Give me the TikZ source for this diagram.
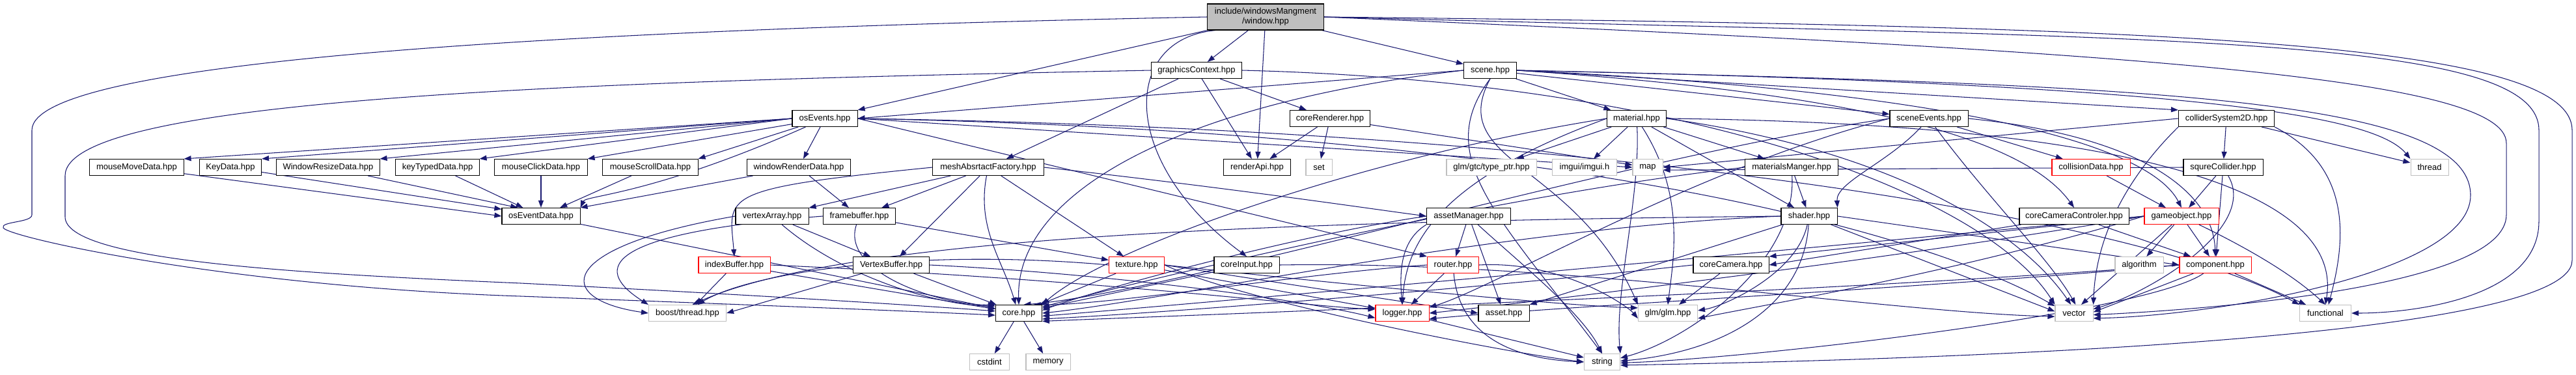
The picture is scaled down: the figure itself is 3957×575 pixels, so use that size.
\documentclass[tikz,border=0pt]{standalone}
\usepackage{fontspec}
\setmainfont{Liberation Sans}
\usetikzlibrary{arrows.meta,backgrounds}
\definecolor{edgeblue}{HTML}{191970}
\definecolor{sysgray}{HTML}{BFBFBF}
\newcommand{\hfont}{\fontsize{3.7}{4.3}\selectfont}
\tikzset{
  hdr/.style={draw=black, fill=white, line width=0.3pt, minimum height=2.5mm, inner sep=0pt, font=\hfont},
  sys/.style={hdr, draw=sysgray},
  trunc/.style={hdr, draw=red},
  dep/.style={draw=edgeblue, line width=0.3pt, -{Triangle[length=1.1mm,width=0.8mm]}},
}
\begin{document}
\begin{tikzpicture}[x=0.01cm, y=-0.01cm]
\useasboundingbox (0,0) rectangle (3957,575);
% Nodi
\node[hdr, fill=sysgray, minimum width=17.8mm, minimum height=4mm, align=center] (win) at (1944,26) {include/windowsMangment\\/window.hpp};
\node[hdr, minimum width=13.9mm] (gctx) at (1838,108) {graphicsContext.hpp};
\node[hdr, minimum width=8.1mm] (scene) at (2289,108) {scene.hpp};
\node[hdr, minimum width=10mm] (osev) at (1267,182) {osEvents.hpp};
\node[hdr, minimum width=12.3mm] (corer) at (2043,182) {coreRenderer.hpp};
\node[hdr, minimum width=9.1mm] (mat) at (2514,182) {material.hpp};
\node[hdr, minimum width=12mm] (scev) at (2963,182) {sceneEvents.hpp};
\node[hdr, minimum width=14.7mm] (colsys) at (3420,182) {colliderSystem2D.hpp};
\node[hdr, minimum width=14.4mm] (mmd) at (210,257) {mouseMoveData.hpp};
\node[hdr, minimum width=9.5mm] (keyd) at (354,257) {KeyData.hpp};
\node[hdr, minimum width=15.8mm] (wrd) at (504,257) {WindowResizeData.hpp};
\node[hdr, minimum width=12.8mm] (ktd) at (672,257) {keyTypedData.hpp};
\node[hdr, minimum width=14.2mm] (mcd) at (831,257) {mouseClickData.hpp};
\node[hdr, minimum width=14.6mm] (msd) at (999,257) {mouseScrollData.hpp};
\node[hdr, minimum width=15.9mm] (wrnd) at (1227,257) {windowRenderData.hpp};
\node[hdr, minimum width=17mm] (mesh) at (1518,257) {meshAbsrtactFactory.hpp};
\node[hdr, minimum width=10.3mm] (rapi) at (1931,257) {renderApi.hpp};
\node[sys, minimum width=4mm] (set) at (2026,257) {set};
\node[sys, minimum width=13.8mm] (gtc) at (2291,257) {glm/gtc/type\_ptr.hpp};
\node[sys, minimum width=9.9mm] (imgui) at (2434,257) {imgui/imgui.h};
\node[sys, minimum width=4.6mm] (map) at (2531,257) {map};
\node[hdr, minimum width=14.3mm] (matm) at (2752,257) {materialsManger.hpp};
\node[trunc, minimum width=12mm] (coll) at (3212,257) {collisionData.hpp};
\node[hdr, minimum width=12.2mm] (sqc) at (3415,257) {squreCollider.hpp};
\node[sys, minimum width=5.8mm] (thread) at (3732,257) {thread};
\node[hdr, minimum width=12mm] (oed) at (831,332) {osEventData.hpp};
\node[hdr, minimum width=11.2mm] (varr) at (1186,332) {vertexArray.hpp};
\node[hdr, minimum width=11.1mm] (fbuf) at (1320,332) {framebuffer.hpp};
\node[hdr, minimum width=12.9mm] (assetm) at (2256,332) {assetManager.hpp};
\node[hdr, minimum width=8.6mm] (shader) at (2779,332) {shader.hpp};
\node[hdr, minimum width=16.8mm] (camctl) at (3186,332) {coreCameraControler.hpp};
\node[trunc, minimum width=11.4mm] (gobj) at (3351,332) {gameobject.hpp};
\node[trunc, minimum width=11mm] (ibuf) at (1128,407) {indexBuffer.hpp};
\node[hdr, minimum width=11.7mm] (vbuf) at (1369,407) {VertexBuffer.hpp};
\node[trunc, minimum width=8.5mm] (tex) at (1746,407) {texture.hpp};
\node[hdr, minimum width=10mm] (cinp) at (1915,407) {coreInput.hpp};
\node[trunc, minimum width=7.9mm] (router) at (2232,407) {router.hpp};
\node[hdr, minimum width=11.6mm] (ccam) at (2659,407) {coreCamera.hpp};
\node[sys, minimum width=7.4mm] (algo) at (3286,407) {algorithm};
\node[trunc, minimum width=11mm] (comp) at (3403,407) {component.hpp};
\node[sys, minimum width=11.9mm] (boost) at (1056,481) {boost/thread.hpp};
\node[hdr, minimum width=7.1mm] (core) at (1565,481) {core.hpp};
\node[trunc, minimum width=8.2mm] (logger) at (2154,481) {logger.hpp};
\node[hdr, minimum width=7.8mm] (asset) at (2310,481) {asset.hpp};
\node[sys, minimum width=9.1mm] (glm) at (2562,481) {glm/glm.hpp};
\node[sys, minimum width=5.8mm] (vector) at (3186,481) {vector};
\node[sys, minimum width=7.9mm] (functional) at (3572,481) {functional};
\node[sys, minimum width=6.1mm] (cstdint) at (1520,556) {cstdint};
\node[sys, minimum width=6.8mm] (memory) at (1610,556) {memory};
\node[sys, minimum width=5.5mm] (string) at (2461,556) {string};
\begin{pgfonlayer}{background}
% window.hpp
\draw[dep] (win) -- (gctx);
\draw[dep] (win) -- (scene);
\draw[dep] (win.south west) -- (osev.north east);
\draw[dep] (win) -- (rapi);
\draw[dep] (win.195) .. controls (1720,60) and (1720,250) .. (cinp.north);
\draw[dep] (win.west) .. controls (900,45) and (49,90) .. (49,200) -- (49,330) .. controls (49,342) and (0,340) .. (5,350) .. controls (15,365) and (350,440) .. (800,455) .. controls (1200,470) and (1450,480) .. (core.185);
\draw[dep] (win.east) .. controls (3300,40) and (3951,60) .. (3951,200) -- (3951,400) .. controls (3951,520) and (3000,552) .. (string.-10);
\draw[dep] (win.east) .. controls (3300,60) and (3900,50) .. (3900,200) -- (3900,340) .. controls (3900,460) and (3700,481) .. (functional.east);
\draw[dep] (win.east) .. controls (3300,80) and (3850,120) .. (3850,220) -- (3850,330) .. controls (3850,440) and (3400,475) .. (vector.-5);
% graphicsContext.hpp
\draw[dep] (gctx.west) .. controls (900,125) and (100,150) .. (100,270) -- (100,333) .. controls (100,400) and (450,420) .. (800,435) .. controls (1200,455) and (1450,472) .. (core.175);
\draw[dep] (gctx) -- (mesh);
\draw[dep] (gctx) -- (rapi);
\draw[dep] (gctx) -- (corer);
\draw[dep] (gctx.east) .. controls (2600,125) and (3050,300) .. (vector.north west);
% scene.hpp
\draw[dep] (scene.west) -- (osev.east);
\draw[dep] (scene) -- (mat);
\draw[dep] (scene) -- (scev);
\draw[dep] (scene.east) -- (colsys.north west);
\draw[dep] (scene.east) .. controls (3400,130) and (3650,180) .. (thread.north west);
\draw[dep] (scene.west) .. controls (1800,160) and (1560,300) .. (core.north);
\draw[dep] (scene.east) .. controls (2800,140) and (3100,200) .. (camctl.north);
\draw[dep] (scene.east) .. controls (3000,140) and (3300,220) .. (gobj.north);
\draw[dep] (scene.east) .. controls (3300,130) and (3795,150) .. (3795,300) .. controls (3795,420) and (3400,485) .. (vector.-15);
\draw[dep] (scene.south) .. controls (2220,250) and (2420,250) .. (glm.north west);
\draw[dep] (scene.south) .. controls (2200,240) and (2300,330) .. (string.north);
% osEvents.hpp
\draw[dep] (osev.west) -- (mmd.north east);
\draw[dep] (osev.west) -- (keyd.north east);
\draw[dep] (osev.west) -- (wrd.north east);
\draw[dep] (osev.west) -- (ktd.north east);
\draw[dep] (osev) -- (mcd.north east);
\draw[dep] (osev) -- (msd.north east);
\draw[dep] (osev) -- (wrnd);
\draw[dep] (osev) .. controls (1000,300) and (900,300) .. (oed.north east);
\draw[dep] (osev.east) -- (map.west);
\draw[dep] (osev.east) .. controls (2500,200) and (3300,340) .. (functional.north west);
\draw[dep] (osev.east) .. controls (2500,205) and (3000,380) .. (vector.160);
\draw[dep] (osev.east) -- (router.north west);
% *Data.hpp
\draw[dep] (mmd) -- (oed.west);
\draw[dep] (keyd) -- (oed.170);
\draw[dep] (wrd) -- (oed.160);
\draw[dep] (ktd) -- (oed);
\draw[dep] (mcd) -- (oed);
\draw[dep] (msd) -- (oed);
\draw[dep] (wrnd) -- (oed.north east);
\draw[dep] (wrnd) -- (fbuf);
\draw[dep] (oed) -- (core);
% coreRenderer.hpp
\draw[dep] (corer) -- (rapi);
\draw[dep] (corer) -- (set);
\draw[dep] (corer) -- (map);
% meshAbsrtactFactory.hpp
\draw[dep] (mesh) -- (varr);
\draw[dep] (mesh) -- (fbuf);
\draw[dep] (mesh) -- (vbuf);
\draw[dep] (mesh.west) .. controls (1100,290) and (1120,300) .. (ibuf.north);
\draw[dep] (mesh) -- (tex);
\draw[dep] (mesh) .. controls (1500,350) and (1540,400) .. (core.110);
\draw[dep] (mesh.east) .. controls (1900,290) and (2100,320) .. (assetm.west);
% material.hpp
\draw[dep] (mat) -- (gtc);
\draw[dep] (mat) -- (imgui);
\draw[dep] (mat) .. controls (2590,300) and (2570,400) .. (glm.north);
\draw[dep] (mat) -- (matm);
\draw[dep] (mat.west) .. controls (2100,240) and (1700,380) .. (core.north east);
\draw[dep] (mat.west) .. controls (2200,280) and (2160,380) .. (logger.north);
\draw[dep] (mat) -- (shader);
\draw[dep] (mat.east) .. controls (3300,190) and (3600,300) .. (functional.north);
\draw[dep] (mat.east) .. controls (2900,230) and (3100,350) .. (vector.110);
\draw[dep] (mat) .. controls (2520,300) and (2480,450) .. (string.north east);
% materialsManger.hpp
\draw[dep] (matm) -- (shader);
\draw[dep] (matm.west) .. controls (2300,300) and (1800,420) .. (core.15);
\draw[dep] (matm) .. controls (2760,400) and (2600,520) .. (string.12);
% sceneEvents.hpp
\draw[dep] (scev) -- (coll);
\draw[dep] (scev) .. controls (2900,250) and (2820,280) .. (shader.north east);
\draw[dep] (scev.east) .. controls (3300,210) and (3400,300) .. (comp.north);
\draw[dep] (scev.west) .. controls (2500,240) and (1800,450) .. (core.60);
\draw[dep] (scev) .. controls (3050,300) and (3150,400) .. (vector.80);
\draw[dep] (scev.west) .. controls (2600,260) and (2300,440) .. (logger.12);
% colliderSystem2D.hpp
\draw[dep] (colsys) -- (sqc);
\draw[dep] (colsys) -- (thread);
\draw[dep] (colsys.west) -- (map.east);
\draw[dep] (colsys.south east) .. controls (3620,260) and (3600,380) .. (functional.70);
\draw[dep] (colsys.south west) .. controls (3280,260) and (3220,350) .. (vector.north east);
% collisionData.hpp, squreCollider.hpp
\draw[dep] (coll) -- (gobj);
\draw[dep] (sqc) -- (gobj);
\draw[dep] (sqc) -- (comp);
\draw[dep] (sqc) .. controls (3470,350) and (3300,450) .. (vector.12);
\draw[dep] (sqc.west) -- (map.-10);
% vertexArray.hpp, framebuffer.hpp, indexBuffer.hpp, VertexBuffer.hpp
\draw[dep] (varr.west) .. controls (850,380) and (850,460) .. (boost.west);
\draw[dep] (varr) -- (vbuf);
\draw[dep] (varr) .. controls (1300,430) and (1450,470) .. (core.163);
\draw[dep] (fbuf.west) .. controls (900,360) and (920,420) .. (boost.north west);
\draw[dep] (fbuf) -- (tex);
\draw[dep] (fbuf) .. controls (1290,420) and (1450,470) .. (core.north west);
\draw[dep] (ibuf) -- (boost);
\draw[dep] (ibuf) -- (core);
\draw[dep] (ibuf.east) .. controls (1700,430) and (2000,470) .. (logger.172);
\draw[dep] (vbuf) -- (boost.east);
\draw[dep] (vbuf) -- (core);
\draw[dep] (vbuf.east) .. controls (1700,420) and (2000,460) .. (logger.190);
% texture.hpp
\draw[dep] (tex) -- (core);
\draw[dep] (tex) -- (logger);
\draw[dep] (tex.east) .. controls (2000,440) and (2200,470) .. (asset.west);
\draw[dep] (tex.east) .. controls (2000,430) and (2400,470) .. (glm.170);
\draw[dep] (tex.east) .. controls (1900,460) and (2300,540) .. (string.west);
\draw[dep] (tex.west) .. controls (1400,380) and (1150,420) .. (boost.40);
% coreInput.hpp
\draw[dep] (cinp) -- (core);
\draw[dep] (cinp.east) .. controls (2400,400) and (2900,480) .. (vector.190);
% assetManager.hpp
\draw[dep] (assetm) -- (router);
\draw[dep] (assetm) -- (asset);
\draw[dep] (assetm) .. controls (2330,400) and (2430,480) .. (string.north);
\draw[dep] (assetm.west) .. controls (2000,360) and (1700,440) .. (core.7);
\draw[dep] (assetm.south west) .. controls (2150,370) and (2150,420) .. (logger.north);
% shader.hpp
\draw[dep] (shader.east) -- (comp.west);
\draw[dep] (shader) -- (vector.175);
\draw[dep] (shader) .. controls (2770,470) and (2650,540) .. (string.3);
\draw[dep] (shader) .. controls (2760,420) and (2650,470) .. (glm.5);
\draw[dep] (shader.west) .. controls (2300,350) and (1800,460) .. (core.0);
\draw[dep] (shader.west) .. controls (2000,340) and (1300,360) .. (boost.60);
\draw[dep] (shader) -- (asset.north east);
% coreCameraControler.hpp, gameobject.hpp, coreCamera.hpp
\draw[dep] (camctl) -- (ccam.east);
\draw[dep] (camctl) -- (comp);
\draw[dep] (gobj) -- (algo);
\draw[dep] (gobj) -- (comp);
\draw[dep] (gobj) -- (vector.50);
\draw[dep] (gobj) .. controls (3450,380) and (3520,420) .. (functional.north);
\draw[dep] (gobj.west) -- (ccam.north east);
\draw[dep] (gobj.west) .. controls (2800,380) and (1800,470) .. (core.-7);
\draw[dep] (gobj.west) .. controls (2900,400) and (2300,470) .. (logger.0);
\draw[dep] (gobj.west) .. controls (3000,420) and (2700,470) .. (glm.-10);
\draw[dep] (ccam) -- (glm);
\draw[dep] (ccam.west) .. controls (2300,440) and (1800,480) .. (core.-14);
% component.hpp
\draw[dep] (comp) -- (functional);
\draw[dep] (comp) -- (vector.3);
\draw[dep] (comp) .. controls (3300,480) and (2700,550) .. (string.-3);
\draw[dep] (comp.west) .. controls (3000,440) and (2400,470) .. (logger.-12);
\draw[dep] (comp.west) .. controls (2800,450) and (1800,485) .. (core.-19);
% router.hpp, logger.hpp, core.hpp
\draw[dep] (router) -- (logger);
\draw[dep] (router) .. controls (2240,500) and (2300,550) .. (string.west);
\draw[dep] (router.east) .. controls (2400,400) and (2500,470) .. (glm.190);
\draw[dep] (router.west) .. controls (2000,420) and (1700,470) .. (core.30);
\draw[dep] (logger) -- (string);
\draw[dep] (core) -- (cstdint);
\draw[dep] (core) -- (memory);
\end{pgfonlayer}
\end{tikzpicture}
\end{document}
